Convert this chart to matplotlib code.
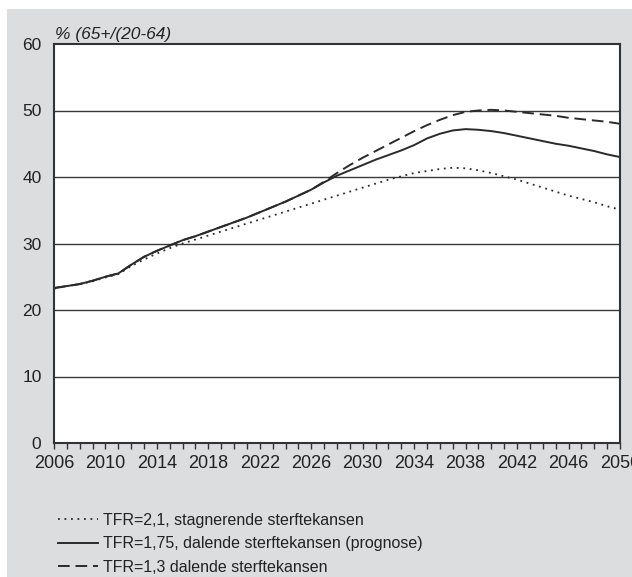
import matplotlib
matplotlib.use("Agg")
import matplotlib.pyplot as plt
from matplotlib.patches import Rectangle

years = list(range(2006, 2051))

tfr_2_1 = [23.2, 23.6, 23.9, 24.3, 24.9, 25.4, 26.6, 27.6, 28.5, 29.3,
           30.0, 30.6, 31.2, 31.8, 32.4, 33.0, 33.6, 34.2, 34.8, 35.4,
           36.0, 36.6, 37.2, 37.8, 38.4, 39.0, 39.6, 40.1, 40.6, 40.9,
           41.2, 41.4, 41.3, 41.0, 40.6, 40.1, 39.6, 39.0, 38.4, 37.8,
           37.2, 36.7, 36.2, 35.6, 35.1]

tfr_1_75 = [23.3, 23.6, 23.9, 24.4, 25.0, 25.5, 26.8, 28.0, 28.9, 29.7,
            30.5, 31.1, 31.8, 32.5, 33.2, 33.9, 34.7, 35.5, 36.3, 37.2,
            38.1, 39.2, 40.2, 41.0, 41.8, 42.6, 43.3, 44.0, 44.8, 45.8,
            46.5, 47.0, 47.2, 47.1, 46.9, 46.6, 46.2, 45.8, 45.4, 45.0,
            44.7, 44.3, 43.9, 43.4, 43.0]

tfr_1_3 = [23.3, 23.6, 23.9, 24.4, 25.0, 25.5, 26.8, 28.0, 28.9, 29.7,
           30.5, 31.1, 31.8, 32.5, 33.2, 33.9, 34.7, 35.5, 36.3, 37.2,
           38.1, 39.3, 40.6, 41.8, 42.9, 43.9, 44.9, 45.9, 46.9, 47.8,
           48.6, 49.3, 49.8, 50.0, 50.1, 50.0, 49.8, 49.6, 49.4, 49.2,
           48.9, 48.7, 48.5, 48.3, 48.0]

labels = ["TFR=2,1, stagnerende sterftekansen",
          "TFR=1,75, dalende sterftekansen (prognose)",
          "TFR=1,3 dalende sterftekansen"]
y_title = "% (65+/(20-64)"
xtick_labels = list(range(2006, 2051, 4))
ytick_vals = [0, 10, 20, 30, 40, 50, 60]

plt.rcParams['font.family'] = ['Liberation Sans', 'DejaVu Sans']

W, H = 632, 577
fig = plt.figure(figsize=(W / 100, H / 100), dpi=100, facecolor='white')
bg = '#dcdddf'
fig.patches.append(Rectangle((7 / W, 0), 1, 1 - 9 / H, transform=fig.transFigure,
                             facecolor=bg, edgecolor='none', zorder=-10))

ax = fig.add_axes([54 / W, 1 - 443 / H, (620 - 54) / W, (443 - 44) / H])
ax.set_facecolor('white')

dark = '#2a2a2a'
ax.plot(years, tfr_2_1, color=dark, lw=1.3, linestyle=(0, (1, 2.6)), label=labels[0])
ax.plot(years, tfr_1_75, color=dark, lw=1.4, linestyle='-', label=labels[1])
ax.plot(years, tfr_1_3, color=dark, lw=1.4, linestyle=(0, (6, 3)), label=labels[2])

ax.set_xlim(2006, 2050)
ax.set_ylim(0, 60)
ax.set_xticks(years, minor=False)
ax.set_xticklabels([str(y) if y in xtick_labels else '' for y in years])
ax.set_yticks(ytick_vals)
for v in ytick_vals[1:-1]:
    ax.axhline(v, color='#3a3a3a', lw=1.0, zorder=1)

for s in ax.spines.values():
    s.set_color('#333333')
    s.set_linewidth(1.5)

ax.tick_params(axis='x', direction='out', length=4.5, width=1.0, color='#333333',
               labelsize=13, pad=4, labelcolor='#222222')
ax.tick_params(axis='y', length=0, labelsize=12.5, pad=9, labelcolor='#222222')

fig.text(55 / W, 1 - 34 / H, y_title, fontsize=12.5, style='italic',
         color='#222222', ha='left', va='center')

handles, labs = ax.get_legend_handles_labels()
leg = fig.legend(handles, labs, loc='upper left',
                 bbox_to_anchor=(58 / W, 1 - 513 / H),
                 frameon=False, fontsize=11.5, handlelength=2.5,
                 handletextpad=0.3, labelspacing=0.52, borderpad=0,
                 borderaxespad=0)
for t in leg.get_texts():
    t.set_color('#222222')

fig.savefig('out.png', dpi=100, facecolor='white')
